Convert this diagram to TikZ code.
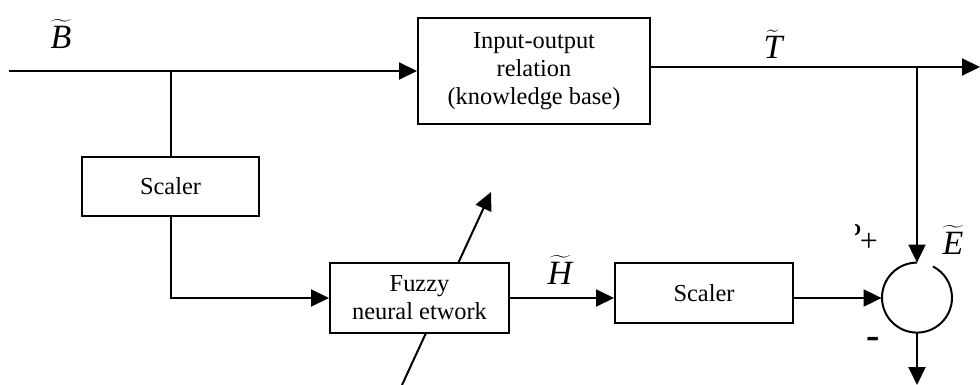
\documentclass[tikz,border=0pt]{standalone}
\usepackage{fontspec}
\setmainfont{Liberation Serif}
\usetikzlibrary{arrows.meta}

\newcommand{\tsym}[1]{$\widetilde{\mbox{\itshape #1}}$}

\tikzset{
  blk/.style={draw,line width=1pt,fill=white,inner sep=0pt,align=center,
    font=\fontsize{12.2}{14}\selectfont},
  sig/.style={line width=1pt,-{Triangle[length=9pt,width=8.5pt]}},
  wire/.style={line width=1pt},
  sym/.style={inner sep=0pt,font=\fontsize{17}{19}\selectfont}
}

\begin{document}
\begin{tikzpicture}[x=0.5pt,y=-0.5pt]
		\useasboundingbox (0,0) rectangle (980,385);
		\coordinate (in) at (9,71);
		\coordinate (out) at (980,67);
		\coordinate (tap1) at (171,71);
		\coordinate (tap2) at (917,67);
		\coordinate (dn) at (917,385);
		\coordinate (adj0) at (402,385);
		\coordinate (adj1) at (491,192);
		% adjustable-weight arrow, passes behind the network box
		\draw[sig] (adj0) -- (adj1);
		\node[blk,minimum width=116pt,minimum height=53pt] (kb) at (534,71) {Input-output\\relation\\(knowledge base)};
		\node[blk,minimum width=88.5pt,minimum height=29.5pt] (sc1) at (170.5,186.5) {Scaler};
		\node[blk,minimum width=89.5pt,minimum height=35pt] (fnn) at (419.5,298) {Fuzzy\\neural etwork};
		\node[blk,minimum width=89pt,minimum height=30pt] (sc2) at (704,293) {Scaler};
		\node[circle,minimum size=35pt,inner sep=0pt] (sum) at (917,298) {};
		\draw[wire] (sum.north) arc (90:423:17.5pt);
		\draw[sig] (in) -- (kb.west);
		\draw[wire] (tap1) -- (tap1 |- sc1.north);
		\draw[sig] (tap1 |- sc1.south) -- (tap1 |- fnn.west) -- (fnn.west);
		\draw[sig] ([yshift=2pt]kb.east) -- (out);
		\draw[sig] (tap2) -- (sum.north);
		\draw[sig] (fnn.east) -- (fnn.east -| sc2.west);
		\draw[sig] (sc2.east |- sum) -- (sum.west);
		\draw[sig] (sum.south) -- (dn);
		\node[sym] (lb) at (61,34) {\tsym{B}};
		\node[sym] (lt) at (773,44) {\tsym{T}};
		\node[sym] (lh) at (560,270) {\tsym{H}};
		\node[sym] (le) at (953,240) {\tsym{E}};
		\node[font=\fontsize{16}{18}\selectfont] (lp) at (869,242) {+};
		\node[font=\fontsize{20}{20}\bfseries] (lm) at (873,343) {-};
		\begin{scope}
			\clip (855,222) rectangle (862,238);
			\node[font=\fontsize{16}{18}\selectfont,anchor=north east,inner sep=0pt] (lq) at (862,224) {?};
		\end{scope}
	    \end{tikzpicture}
\end{document}
